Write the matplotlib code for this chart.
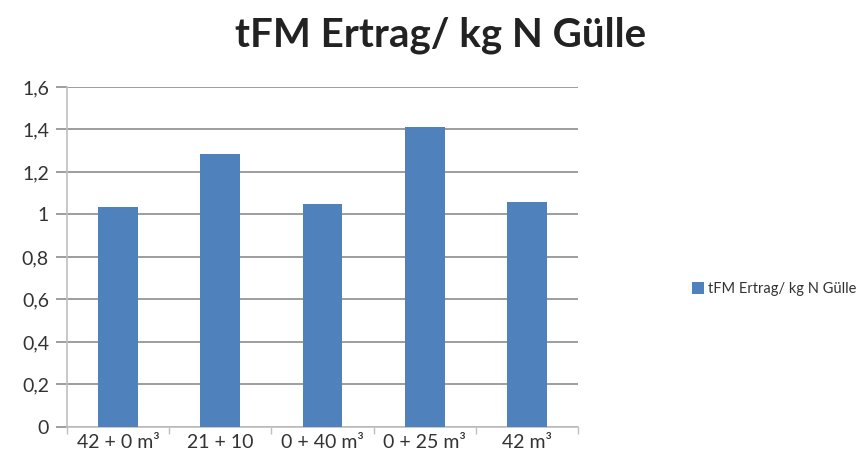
import numpy as np
import matplotlib.pyplot as plt

plt.rcParams['font.family'] = ['Lato', 'DejaVu Sans']

categories = ['42 + 0 m³', '21 + 10', '0 + 40 m³', '0 + 25 m³', '42 m³']
values = [1.035, 1.285, 1.05, 1.41, 1.06]
yticks = [0, 0.2, 0.4, 0.6, 0.8, 1.0, 1.2, 1.4, 1.6]
ytick_labels = ['0', '0,2', '0,4', '0,6', '0,8', '1', '1,2', '1,4', '1,6']
series_name = 'tFM Ertrag/ kg N Gülle'

fig = plt.figure(figsize=(8.64, 4.70), dpi=100)
ax = fig.add_axes([0.0775, 0.0915, 0.5915, 0.7235])

x = np.arange(len(categories))
ax.bar(x, values, width=0.39, color='#4F81BD', label=series_name, zorder=3)

ax.set_xlim(-0.5, len(categories) - 0.5)
ax.set_ylim(0, 1.6)
ax.set_yticks(yticks)
ax.set_yticklabels(ytick_labels, fontsize=14, color='#333333')
ax.yaxis.grid(True, color='#8C8C8C', linewidth=1.2, zorder=0)

ax.set_xticks(x)
ax.set_xticklabels(categories, fontsize=14, color='#333333')
ax.set_xticks(np.arange(-0.5, len(categories)), minor=True)
ax.tick_params(axis='x', which='major', length=0, pad=5)
ax.tick_params(axis='x', which='minor', length=5, color='#BFBFBF', width=1)
ax.tick_params(axis='y', length=8, color='#8C8C8C', width=1.2, pad=5)

for side in ['top', 'right']:
    ax.spines[side].set_visible(False)
ax.spines['left'].set_color('#BFBFBF')
ax.spines['bottom'].set_color('#BFBFBF')
ax.spines['left'].set_linewidth(1.2)
ax.spines['bottom'].set_linewidth(1.2)

fig.text(0.51, 0.925, series_name, ha='center', va='center', fontsize=29, fontweight='bold', color='#222222')

fig.legend(loc='center right', bbox_to_anchor=(1.0, 0.385), frameon=False, fontsize=10.5,
           handlelength=0.8, handleheight=0.8, handletextpad=0.3, labelcolor='#333333',
           borderaxespad=0.1)

fig.savefig('out.png', dpi=100)
